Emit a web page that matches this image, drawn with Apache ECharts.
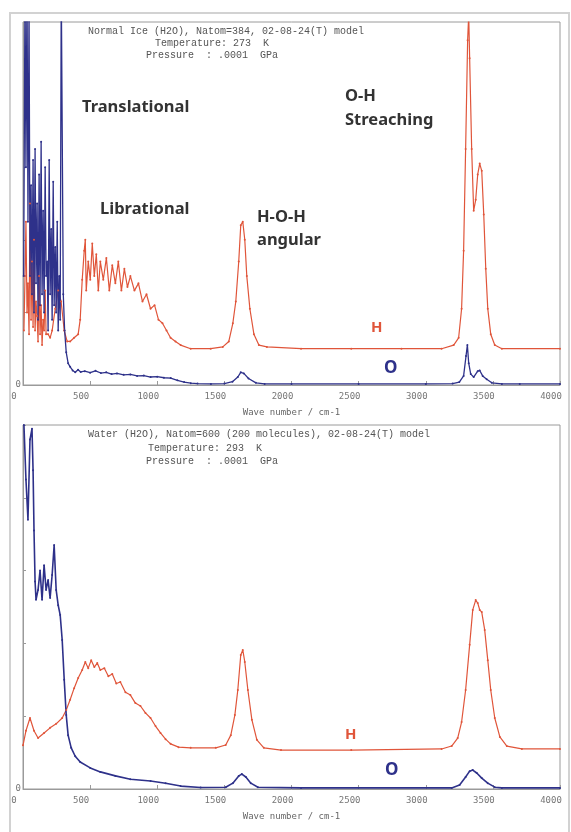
<!DOCTYPE html>
<html><head><meta charset="utf-8">
<script src="https://cdn.jsdelivr.net/npm/echarts@6/dist/echarts.min.js"></script>
<style>html,body{margin:0;padding:0;background:#fff}#c{width:571px;height:832px}</style>
</head><body><div id="c"></div>
<script>
// ---------- data (wave number in cm-1, intensity in arbitrary units, 0..100 full scale) ----------
const xTicks = [0, 500, 1000, 1500, 2000, 2500, 3000, 3500, 4000];

const iceHWave = [7,15,22,30,37,45,52,60,67,75,82,90,97,105,112,120,127,135,142,150,157,165,172,187,202,217,240,262,284,307,329,351,381,411,426,441,456,464,471,486,501,516,531,546,561,576,598,621,643,665,688,710,733,755,778,800,830,860,890,920,950,980,1009,1039,1069,1099,1136,1174,1249,1398,1488,1533,1563,1585,1607,1622,1637,1652,1667,1690,1720,1757,1817,2071,2445,2819,3118,3208,3245,3267,3282,3297,3312,3320,3327,3342,3357,3372,3387,3402,3417,3432,3447,3462,3484,3514,3567,4000];
const iceHVal  = [15,30,45,20,28,14,50,18,34,16,40,15,23,19,12,30,14,22,11,18,15,26,14,14,13,15,21,26,23,15,12,12,13,14,18,29,37,40,26,34,29,39,30,36,26,34,29,35,26,33,28,34,26,32,27,30,26,28,23,25,21,22,18,17,15,13,12,11,10,10,10.5,12,17,23,34,44,45,40,30,21,14,11,10.5,10,10,10,10,11,13,21,37,65,95,102,90,65,48,51,58,61,59,47,32,21,14,11,10,10];

const iceOWave = [5,15,22,30,37,45,52,60,67,75,82,90,97,105,112,120,127,135,142,150,157,165,172,180,187,195,202,210,217,225,232,240,247,255,262,270,277,285,292,300,310,322,336,351,370,389,410,430,460,500,540,580,620,660,700,750,800,850,900,950,1000,1050,1100,1150,1200,1250,1300,1400,1500,1560,1600,1622,1645,1680,1735,1800,2000,2500,3000,3200,3250,3282,3300,3310,3320,3335,3357,3387,3402,3424,3454,3492,3567,3700,4000];
const iceOVal  = [30,110,60,110,45,105,30,55,25,62,20,65,28,50,18,58,22,67,25,48,20,60,30,34,15,62,25,43,18,56,22,38,20,45,15,30,18,110,110,25,15,9,6,5,4,3.5,4.2,3.6,3.8,3.4,3.9,3.3,3.5,3.0,3.2,2.8,2.9,2.5,2.6,2.2,2.3,2.0,1.9,1.3,0.8,0.5,0.4,0.3,0.4,0.9,2.2,3.5,3.2,1.8,0.6,0.3,0.3,0.3,0.3,0.4,0.8,2.5,8,11,6,3,2.2,3.8,4,2.5,1.6,0.6,0.3,0.3,0.3];

const waterHWave = [0,22,52,82,112,157,202,247,292,322,351,381,411,441,464,486,508,531,553,576,606,636,665,695,725,763,800,837,875,912,950,987,1024,1062,1099,1159,1249,1436,1510,1548,1578,1600,1622,1637,1652,1675,1705,1742,1794,1922,2445,3118,3193,3238,3267,3297,3327,3350,3372,3387,3402,3417,3439,3462,3484,3514,3552,3604,3716,4000];
const waterHVal  = [12,16,19.5,16,14,15.4,16.8,17.9,19.5,21.7,24.5,27.7,30.5,32.7,34.9,33.2,35.4,33.5,34.6,32.7,33.2,31,31.6,29,29.4,26.6,25.8,23.6,22.8,20.9,19.5,17.3,15.4,13.7,12.4,11.5,11.3,11.3,12.1,14.8,20.3,27.2,36.8,38.2,34.9,27.2,19,13.5,11.3,10.7,10.7,11,11.8,14,18.4,27.2,39.6,49.2,51.9,51.1,49.2,48.6,43.7,35.4,27.2,19.5,14.3,11.8,11,11];

const waterOWave = [7,22,37,52,67,75,82,90,97,112,127,142,157,172,187,202,217,232,247,262,277,292,307,322,336,359,389,426,501,576,688,800,950,1062,1174,1323,1510,1563,1607,1630,1660,1697,1750,2071,3193,3252,3297,3327,3350,3380,3417,3462,3514,3567,4000];
const waterOVal  = [100,85,74,96,99,87.6,71,57,52,54.7,60,52,61.5,54.7,57.4,52.5,58.8,67,54.7,50.5,47.8,40.9,30,20.3,14.8,11.3,9,7.4,5.8,4.7,3.6,2.7,2.2,1.6,0.8,0.4,0.5,1.6,3.6,4.1,3.3,1.6,0.5,0.3,0.3,1.1,3.3,4.9,5.2,4.4,3,1.6,0.5,0.3,0.3];

const pairs = (xs, ys) => xs.map((x, i) => [x, ys[i]]);

// ---------- styling ----------
const RED = '#e0553a', BLUE = '#2e318a', AX = '#9a9a9a';
const axisFont = {fontFamily: 'DejaVu Sans Mono', fontSize: 9, color: '#777'};

function xAxisCfg(gi) {
  return {
    gridIndex: gi, type: 'value', min: 0, max: 4000, interval: 500,
    axisLine: {show: true, lineStyle: {color: AX}},
    axisTick: {show: true, inside: true, length: 4, lineStyle: {color: AX}},
    axisLabel: Object.assign({margin: 7, padding: [0, 18, 0, 0], formatter: v => String(v)}, axisFont),
    splitLine: {show: false},
    name: 'Wave number / cm-1', nameLocation: 'middle', nameGap: 23,
    nameTextStyle: {fontFamily: 'DejaVu Sans Mono', fontSize: 9, color: '#666'}
  };
}
function yAxisCfg(gi) {
  return {
    gridIndex: gi, type: 'value', min: 0, max: 100, interval: 20,
    axisLine: {show: true, lineStyle: {color: AX}},
    axisTick: {show: true, inside: true, length: 3, lineStyle: {color: AX}},
    axisLabel: Object.assign({margin: 2, formatter: v => v === 0 ? '0' : ''}, axisFont),
    splitLine: {show: false}
  };
}
function line(gi, data, color, w) {
  return {
    type: 'line', xAxisIndex: gi, yAxisIndex: gi, data: data,
    symbol: 'circle', symbolSize: 2, showSymbol: true,
    itemStyle: {color: color}, lineStyle: {color: color, width: w},
    clip: true, animation: false, silent: true
  };
}

const hdr = {fontFamily: 'Liberation Mono', fontSize: 10, fill: '#555'};
const big = {fontFamily: 'Noto Sans', fontSize: 16.5, fontWeight: 'bold', fill: '#333'};
function txt(x, y, s, st) { return {type: 'text', left: x, top: y, style: Object.assign({text: s}, st), silent: true}; }

const chart = echarts.init(document.getElementById('c'), null, {renderer: 'canvas'});
chart.setOption({
  animation: false,
  backgroundColor: '#fff',
  grid: [
    {left: 23, right: 11, top: 22, height: 363, show: true, borderColor: AX, borderWidth: 1, backgroundColor: '#fff'},
    {left: 23, right: 11, top: 425, height: 364, show: true, borderColor: AX, borderWidth: 1, backgroundColor: '#fff'}
  ],
  xAxis: [xAxisCfg(0), xAxisCfg(1)],
  yAxis: [yAxisCfg(0), yAxisCfg(1)],
  series: [
    line(0, pairs(iceHWave, iceHVal), RED, 1.2),
    line(0, pairs(iceOWave, iceOVal), BLUE, 1.3),
    line(1, pairs(waterHWave, waterHVal), RED, 1.2),
    line(1, pairs(waterOWave, waterOVal), BLUE, 1.6)
  ],
  graphic: [
    {type: 'rect', shape: {x: 10, y: 13, width: 559, height: 830}, style: {fill: 'none', stroke: '#d2d2d2', lineWidth: 2}, silent: true, z: -10},
    txt(88, 26, 'Normal Ice (H2O), Natom=384, 02-08-24(T) model', hdr),
    txt(155, 38, 'Temperature: 273  K', hdr),
    txt(146, 50, 'Pressure  : .0001  GPa', hdr),
    txt(88, 429, 'Water (H2O), Natom=600 (200 molecules), 02-08-24(T) model', hdr),
    txt(148, 443, 'Temperature: 293  K', hdr),
    txt(146, 456, 'Pressure  : .0001  GPa', hdr),
    txt(82, 99, 'Translational', big),
    txt(100, 201, 'Librational', big),
    txt(257, 209, 'H-O-H', big),
    txt(257, 232, 'angular', big),
    txt(345, 88, 'O-H', big),
    txt(345, 112, 'Streaching', big),
    txt(371, 320, 'H', {fontFamily: 'Noto Sans', fontSize: 15, fontWeight: 'bold', fill: RED}),
    txt(384, 360, 'O', {fontFamily: 'Noto Sans', fontSize: 17, fontWeight: 'bold', fill: BLUE}),
    txt(345, 727, 'H', {fontFamily: 'Noto Sans', fontSize: 15, fontWeight: 'bold', fill: RED}),
    txt(385, 762, 'O', {fontFamily: 'Noto Sans', fontSize: 17, fontWeight: 'bold', fill: BLUE})
  ]
});
</script>
</body></html>
